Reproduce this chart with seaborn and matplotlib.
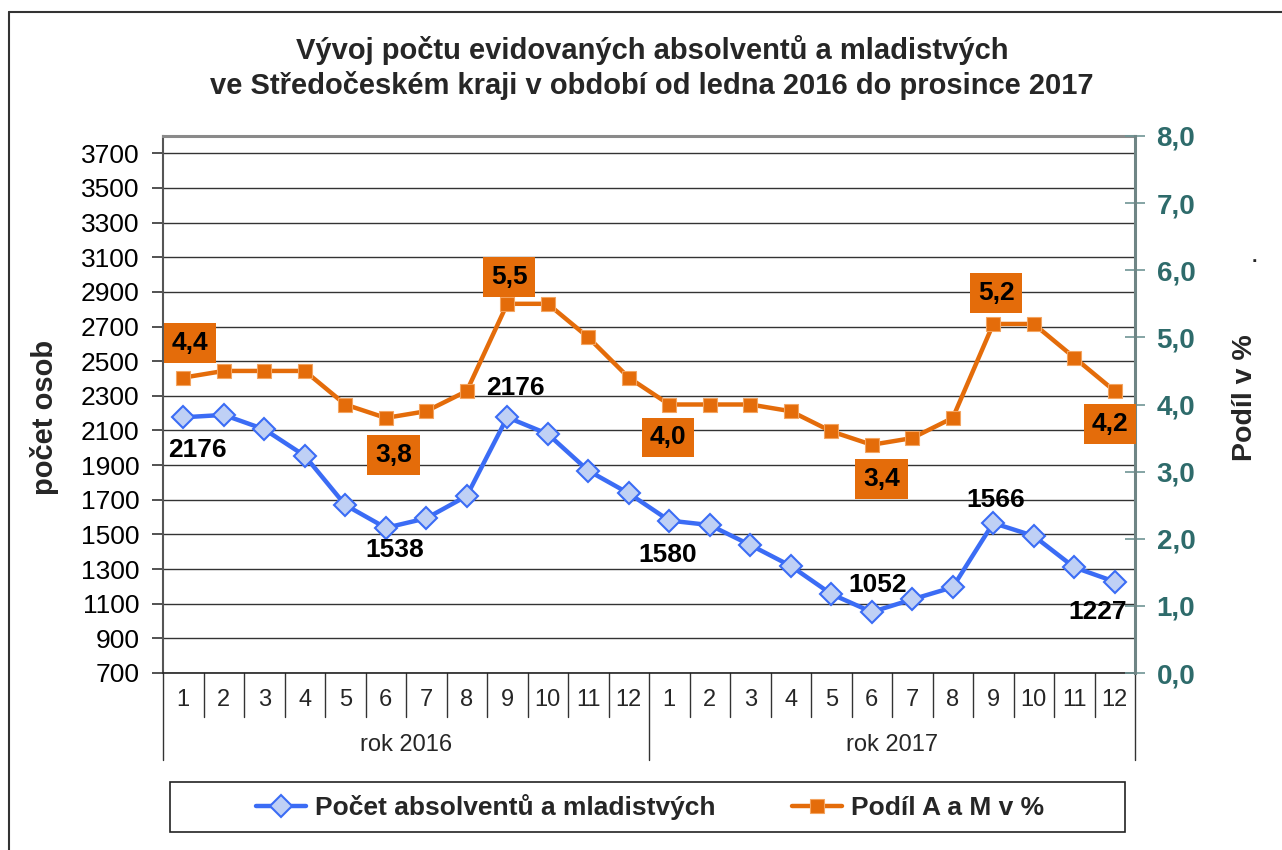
import matplotlib
matplotlib.use("Agg")
import matplotlib.pyplot as plt
import seaborn as sns
import numpy as np
from matplotlib.lines import Line2D
from matplotlib.patches import Rectangle
from matplotlib.transforms import blended_transform_factory

# ---- data ----
months = [str(m) for m in range(1, 13)] * 2
years = ["rok 2016", "rok 2017"]
pocet = [2176, 2190, 2107, 1954, 1670, 1538, 1593, 1722, 2176, 2080, 1868, 1737,
         1580, 1554, 1439, 1318, 1156, 1052, 1125, 1195, 1566, 1491, 1310, 1227]
podil = [4.4, 4.5, 4.5, 4.5, 4.0, 3.8, 3.9, 4.2, 5.5, 5.5, 5.0, 4.4,
         4.0, 4.0, 4.0, 3.9, 3.6, 3.4, 3.5, 3.8, 5.2, 5.2, 4.7, 4.2]
left_ticks = list(range(700, 3701, 200))
right_ticks = [0, 1, 2, 3, 4, 5, 6, 7, 8]
series_names = ["Počet absolventů a mladistvých", "Podíl A a M v %"]
title_lines = ["Vývoj počtu evidovaných absolventů a mladistvých",
               "ve Středočeském kraji v období od ledna 2016 do prosince 2017"]

# labelled points: index, offset in pixels (dx, dy)
blue_labels = [(0, (14, -33)), (5, (9, -22)), (8, (8, 29)), (12, (-2, -34)),
               (17, (6, 27)), (20, (2, 23)), (23, (-17, -30))]
orange_labels = [(0, (7, 35)), (5, (8, -37)), (8, (2, 27)), (12, (-1, -33)),
                 (17, (10, -34)), (20, (3, 31)), (23, (-5, -33))]

BLUE = "#3B6CF5"
BLUE_FILL = "#BFD0F5"
ORANGE = "#E46C0A"
TEAL = "#2E6B6B"

sns.set_theme(style="white")
plt.rcParams["font.family"] = ["Liberation Sans", "DejaVu Sans"]

W, H = 1282, 850
fig = plt.figure(figsize=(W / 100, H / 100), dpi=100)
L, R, T, B = 163, 1135, 136, 673
ax = fig.add_axes([L / W, 1 - B / H, (R - L) / W, (B - T) / H])
ax2 = ax.twinx()

x = np.arange(len(pocet))

sns.lineplot(x=x, y=pocet, ax=ax, color=BLUE, linewidth=3.2, marker="D",
             markersize=11, markerfacecolor=BLUE_FILL, markeredgecolor=BLUE,
             markeredgewidth=1.5, label=series_names[0], legend=False)
sns.lineplot(x=x, y=podil, ax=ax2, color=ORANGE, linewidth=3.2, marker="s",
             markersize=10.5, markerfacecolor=ORANGE, markeredgecolor="#F4A460",
             markeredgewidth=0.8, label=series_names[1], legend=False)

ax.set_xlim(-0.5, len(x) - 0.5)
ax.set_ylim(700, 3800)
ax2.set_ylim(0, 8)

ax.set_yticks(left_ticks)
ax.set_yticklabels([str(v) for v in left_ticks], fontsize=19, color="black")
ax.tick_params(axis="y", direction="out", length=8, width=1.2, color="#333333", pad=9)
ax.yaxis.grid(True, color="#333333", linewidth=1.0)
ax.set_axisbelow(True)
ax.set_xticks([])
ax.set_xlabel("")
ax.set_ylabel("")

ax2.set_yticks(right_ticks)
ax2.set_yticklabels([f"{v:.1f}".replace(".", ",") for v in right_ticks],
                    fontsize=20, color=TEAL, fontweight="bold")
ax2.tick_params(axis="y", direction="inout", length=15, width=1.2, color="#6F9595", pad=8)
ax2.set_ylabel("")
ax2.grid(False)

for a in (ax, ax2):
    for s in a.spines.values():
        s.set_visible(False)
ax.spines["left"].set_visible(True)
ax.spines["left"].set_color("#555555")
ax.spines["left"].set_linewidth(1.5)
ax.spines["bottom"].set_visible(True)
ax.spines["bottom"].set_color("#222222")
ax.spines["bottom"].set_linewidth(1.2)
ax.spines["top"].set_visible(True)
ax.spines["top"].set_color("#8A8A8A")
ax.spines["top"].set_linewidth(2.2)
ax2.spines["right"].set_visible(True)
ax2.spines["right"].set_color("#6F8585")
ax2.spines["right"].set_linewidth(2.2)

# data labels
for i, (dx, dy) in blue_labels:
    ax.annotate(str(pocet[i]), (x[i], pocet[i]), xytext=(dx, dy),
                textcoords="offset pixels", ha="center", va="center",
                fontsize=19, fontweight="bold", color="black", zorder=5)
for i, (dx, dy) in orange_labels:
    ax2.annotate(f"{podil[i]:.1f}".replace(".", ","), (x[i], podil[i]), xytext=(dx, dy),
                 textcoords="offset pixels", ha="center", va="center",
                 fontsize=19, fontweight="bold", color="black", zorder=6,
                 bbox=dict(boxstyle="square,pad=0.3", facecolor=ORANGE, edgecolor="none"))

# two-level category axis
tr = blended_transform_factory(ax.transData, ax.transAxes)
ph = B - T
for k in range(1, len(x)):
    if k % 12 == 0:
        continue
    ax.plot([k - 0.5, k - 0.5], [0, -44 / ph], transform=tr, color="#333333",
            linewidth=1, clip_on=False)
for k in (0, 12, 24):
    ax.plot([k - 0.5, k - 0.5], [0, -87 / ph], transform=tr, color="#333333",
            linewidth=1, clip_on=False)
for xi, m in zip(x, months):
    ax.text(xi, -27 / ph, m, transform=tr, ha="center", va="center", fontsize=17)
for j, yl in enumerate(years):
    ax.text(j * 12 + 5.5, -72 / ph, yl, transform=tr, ha="center", va="center", fontsize=17)

# titles and axis titles
fig.text(652 / W, 1 - 50 / H, title_lines[0], ha="center", va="center",
         fontsize=21, fontweight="bold")
fig.text(652 / W, 1 - 85 / H, title_lines[1], ha="center", va="center",
         fontsize=21, fontweight="bold")
fig.text(45 / W, 1 - 417 / H, "počet osob", rotation=90, ha="center", va="center",
         fontsize=21, fontweight="bold")
fig.text(1245 / W, 1 - 398 / H, "Podíl v %", rotation=90, ha="center", va="center",
         fontsize=20.5, fontweight="bold")
fig.text(1254 / W, 1 - 258 / H, ".", ha="center", va="center", fontsize=14,
         fontweight="bold")

# outer chart border (left and top edges)
fig.add_artist(Line2D([9 / W, 9 / W], [0, 1 - 12 / H], color="#333333", linewidth=1.5))
fig.add_artist(Line2D([9 / W, 1], [1 - 12 / H, 1 - 12 / H], color="#333333", linewidth=1.5))

# legend box + legend
lx0, ly0, lx1, ly1 = 170, 782, 1125, 832
fig.add_artist(Rectangle((lx0 / W, 1 - ly1 / H), (lx1 - lx0) / W, (ly1 - ly0) / H,
                         transform=fig.transFigure, facecolor="white",
                         edgecolor="#222222", linewidth=1.2))
h1, l1 = ax.get_legend_handles_labels()
h2, l2 = ax2.get_legend_handles_labels()
leg = fig.legend(h1 + h2, l1 + l2, loc="center",
                 bbox_to_anchor=(650 / W, 1 - 807 / H),
                 ncol=2, frameon=False,
                 prop=dict(size=19, weight="bold"), handlelength=1.9,
                 handletextpad=0.35, columnspacing=2.9)

fig.savefig("out.png", dpi=100)
